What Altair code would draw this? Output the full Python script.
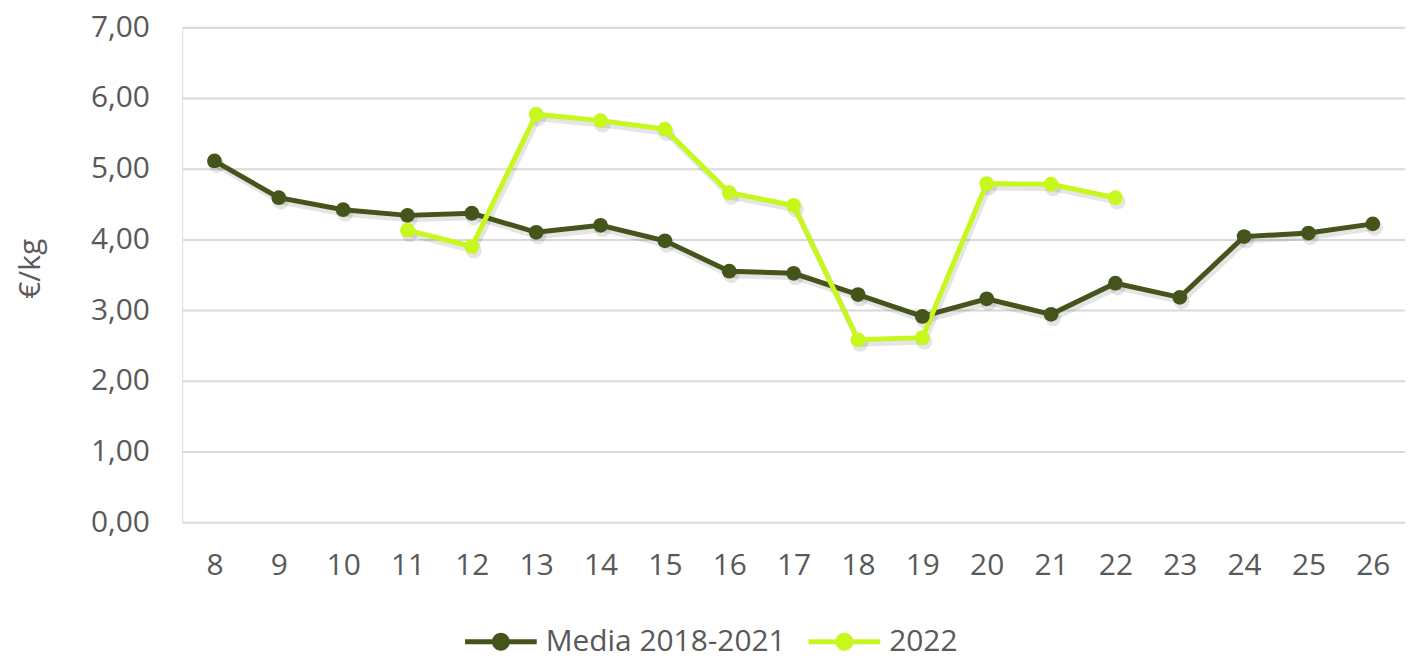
import altair as alt
import pandas as pd

weeks = [8, 9, 10, 11, 12, 13, 14, 15, 16, 17, 18, 19, 20, 21, 22, 23, 24, 25, 26]
media = [5.11, 4.59, 4.42, 4.34, 4.37, 4.10, 4.20, 3.98, 3.55, 3.52, 3.22, 2.91,
         3.16, 2.94, 3.38, 3.18, 4.04, 4.09, 4.22]
y2022 = [None, None, None, 4.13, 3.90, 5.77, 5.68, 5.56, 4.66, 4.48, 2.58, 2.61,
         4.79, 4.78, 4.59, None, None, None, None]
series_names = ["Media 2018-2021", "2022"]
series_colors = ["#45541B", "#C6F81E"]

rows = []
for w, v in zip(weeks, media):
    rows.append({"week": str(w), "value": v, "serie": series_names[0]})
for w, v in zip(weeks, y2022):
    if v is not None:
        rows.append({"week": str(w), "value": v, "serie": series_names[1]})
df = pd.DataFrame(rows)

FONT = "Open Sans"
TXT = "#595959"
FS = 30
week_labels = [str(w) for w in weeks]

x_enc = alt.X("week:O", sort=week_labels,
              scale=alt.Scale(type="point", padding=0.5),
              axis=alt.Axis(title=None, labelAngle=0, labelFont=FONT, labelFontSize=FS,
                            labelColor=TXT, labelPadding=29, ticks=False, domain=False,
                            grid=False))
y_enc = alt.Y("value:Q", scale=alt.Scale(domain=[0, 7], nice=False),
              axis=alt.Axis(title="€/kg", values=[0, 1, 2, 3, 4, 5, 6, 7],
                            labelExpr="replace(format(datum.value, '.2f'), '.', ',')",
                            labelFont=FONT, labelFontSize=FS, labelColor=TXT,
                            labelPadding=33, ticks=False, domain=False,
                            gridColor="#D9D9D9", gridWidth=2,
                            titleFont=FONT, titleFontSize=FS, titleColor=TXT,
                            titleFontWeight="normal", titleAngle=270,
                            titleX=-152, titleY=242, titleAlign="center",
                            titleBaseline="middle"))

color_scale = alt.Scale(domain=series_names, range=series_colors)


def make_legend():
    return alt.Legend(title=None, orient="none", direction="horizontal",
                      legendX=284, legendY=581,
                      symbolType="M -1 -0.07 L 1 -0.07 L 1 0.07 L -1 0.07 Z "
                                 "M 0.25 0 A 0.25 0.25 0 1 1 -0.25 0 A 0.25 0.25 0 1 1 0.25 0 Z",
                      symbolSize=5184, symbolStrokeWidth=0,
                      labelFont=FONT, labelFontSize=FS, labelColor=TXT,
                      labelLimit=500, labelOffset=9, columnPadding=22,
                      labelBaseline="middle")


base = alt.Chart(df)

shadow_line = base.mark_line(strokeWidth=6, color="#000000", opacity=0.10,
                             xOffset=2, yOffset=4).encode(
    x=x_enc, y=y_enc, detail="serie:N")
shadow_pts = base.mark_point(filled=True, size=260, color="#000000", opacity=0.10,
                             xOffset=2, yOffset=4).encode(
    x=x_enc, y=y_enc, detail="serie:N")

lines = base.mark_line(strokeWidth=5).encode(
    x=x_enc, y=y_enc,
    color=alt.Color("serie:N", scale=color_scale, legend=make_legend()))
points = base.mark_point(filled=True, size=220, opacity=1).encode(
    x=x_enc, y=y_enc,
    color=alt.Color("serie:N", scale=color_scale, legend=make_legend()))

chart = alt.layer(shadow_line, shadow_pts, lines, points).properties(
    width=1228, height=497,
    autosize=alt.AutoSizeParams(type="none"),
    padding={"left": 175, "top": 18, "right": 0, "bottom": 134},
).configure_view(stroke=None).configure(background="white")

chart.save("out.html", embed_options={"renderer": "svg", "actions": False})
